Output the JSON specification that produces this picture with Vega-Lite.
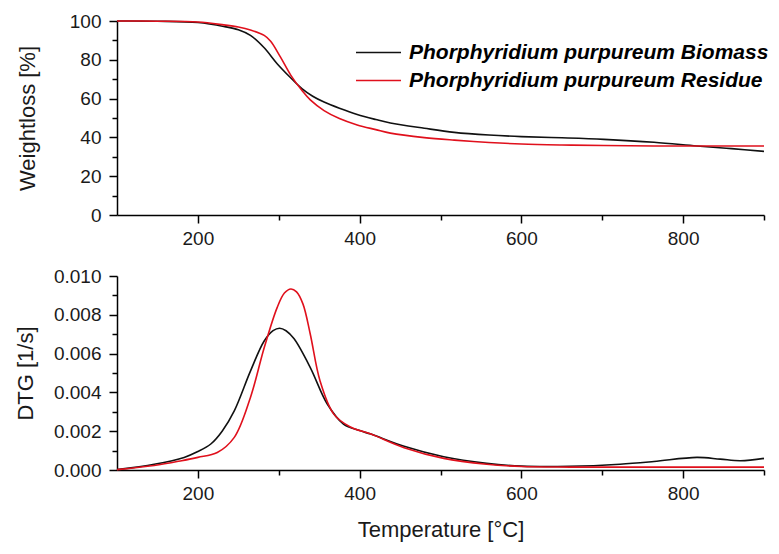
{
  "$schema": "https://vega.github.io/schema/vega-lite/v6.json",
  "padding": {"left": 14, "top": 12, "right": 5, "bottom": 5},
  "background": "white",
  "spacing": 19,
  "config": {
    "view": {"stroke": null},
    "font": "Liberation Sans",
    "axis": {
      "grid": false,
      "domainColor": "#000000",
      "domainWidth": 1.5,
      "tickColor": "#000000",
      "tickWidth": 1.5,
      "labelFont": "Liberation Sans",
      "labelFontSize": 19,
      "labelColor": "#1a1a1a",
      "titleFont": "Liberation Sans",
      "titleFontSize": 22,
      "titleFontWeight": "normal",
      "titleColor": "#1a1a1a",
      "labelPadding": 6
    }
  },
  "datasets": {
    "tg": [
      {"T": 100, "W": 100, "series": "Biomass"},
      {"T": 150, "W": 99.9, "series": "Biomass"},
      {"T": 200, "W": 99.2, "series": "Biomass"},
      {"T": 232, "W": 97.2, "series": "Biomass"},
      {"T": 250, "W": 95.5, "series": "Biomass"},
      {"T": 265, "W": 92.6, "series": "Biomass"},
      {"T": 282, "W": 86.2, "series": "Biomass"},
      {"T": 298, "W": 78.0, "series": "Biomass"},
      {"T": 315, "W": 70.6, "series": "Biomass"},
      {"T": 329, "W": 65.0, "series": "Biomass"},
      {"T": 342, "W": 61.2, "series": "Biomass"},
      {"T": 356, "W": 58.2, "series": "Biomass"},
      {"T": 375, "W": 55.0, "series": "Biomass"},
      {"T": 397, "W": 51.8, "series": "Biomass"},
      {"T": 420, "W": 49.2, "series": "Biomass"},
      {"T": 438, "W": 47.4, "series": "Biomass"},
      {"T": 480, "W": 44.7, "series": "Biomass"},
      {"T": 517, "W": 42.6, "series": "Biomass"},
      {"T": 560, "W": 41.2, "series": "Biomass"},
      {"T": 600, "W": 40.4, "series": "Biomass"},
      {"T": 650, "W": 39.8, "series": "Biomass"},
      {"T": 702, "W": 39.0, "series": "Biomass"},
      {"T": 764, "W": 37.5, "series": "Biomass"},
      {"T": 817, "W": 35.6, "series": "Biomass"},
      {"T": 860, "W": 34.2, "series": "Biomass"},
      {"T": 900, "W": 32.8, "series": "Biomass"},
      {"T": 100, "W": 100, "series": "Residue"},
      {"T": 150, "W": 99.9, "series": "Residue"},
      {"T": 200, "W": 99.5, "series": "Residue"},
      {"T": 232, "W": 98.0, "series": "Residue"},
      {"T": 250, "W": 96.9, "series": "Residue"},
      {"T": 265, "W": 95.4, "series": "Residue"},
      {"T": 282, "W": 92.6, "series": "Residue"},
      {"T": 290, "W": 89.6, "series": "Residue"},
      {"T": 302, "W": 81.5, "series": "Residue"},
      {"T": 315, "W": 72.0, "series": "Residue"},
      {"T": 329, "W": 64.0, "series": "Residue"},
      {"T": 339, "W": 59.3, "series": "Residue"},
      {"T": 356, "W": 53.8, "series": "Residue"},
      {"T": 375, "W": 49.7, "series": "Residue"},
      {"T": 397, "W": 46.4, "series": "Residue"},
      {"T": 420, "W": 44.0, "series": "Residue"},
      {"T": 438, "W": 42.2, "series": "Residue"},
      {"T": 480, "W": 39.9, "series": "Residue"},
      {"T": 517, "W": 38.6, "series": "Residue"},
      {"T": 560, "W": 37.4, "series": "Residue"},
      {"T": 600, "W": 36.6, "series": "Residue"},
      {"T": 650, "W": 36.1, "series": "Residue"},
      {"T": 702, "W": 35.8, "series": "Residue"},
      {"T": 764, "W": 35.6, "series": "Residue"},
      {"T": 817, "W": 35.6, "series": "Residue"},
      {"T": 860, "W": 35.6, "series": "Residue"},
      {"T": 900, "W": 35.6, "series": "Residue"}
    ],
    "dtg": [
      {"T": 100, "D": 0.00002, "series": "Biomass"},
      {"T": 146, "D": 0.0003, "series": "Biomass"},
      {"T": 183, "D": 0.00065, "series": "Biomass"},
      {"T": 200, "D": 0.00095, "series": "Biomass"},
      {"T": 216, "D": 0.00134, "series": "Biomass"},
      {"T": 230, "D": 0.0020, "series": "Biomass"},
      {"T": 245, "D": 0.00305, "series": "Biomass"},
      {"T": 265, "D": 0.0051, "series": "Biomass"},
      {"T": 282, "D": 0.00665, "series": "Biomass"},
      {"T": 293, "D": 0.00718, "series": "Biomass"},
      {"T": 301, "D": 0.00731, "series": "Biomass"},
      {"T": 309, "D": 0.00718, "series": "Biomass"},
      {"T": 319, "D": 0.00676, "series": "Biomass"},
      {"T": 339, "D": 0.00528, "series": "Biomass"},
      {"T": 360, "D": 0.0034, "series": "Biomass"},
      {"T": 380, "D": 0.00237, "series": "Biomass"},
      {"T": 400, "D": 0.00203, "series": "Biomass"},
      {"T": 414, "D": 0.00185, "series": "Biomass"},
      {"T": 455, "D": 0.00122, "series": "Biomass"},
      {"T": 504, "D": 0.00068, "series": "Biomass"},
      {"T": 557, "D": 0.00034, "series": "Biomass"},
      {"T": 600, "D": 0.0002, "series": "Biomass"},
      {"T": 660, "D": 0.00019, "series": "Biomass"},
      {"T": 722, "D": 0.0003, "series": "Biomass"},
      {"T": 764, "D": 0.00044, "series": "Biomass"},
      {"T": 817, "D": 0.00065, "series": "Biomass"},
      {"T": 846, "D": 0.00056, "series": "Biomass"},
      {"T": 871, "D": 0.00048, "series": "Biomass"},
      {"T": 900, "D": 0.0006, "series": "Biomass"},
      {"T": 100, "D": 0.00002, "series": "Residue"},
      {"T": 146, "D": 0.00023, "series": "Residue"},
      {"T": 180, "D": 0.00048, "series": "Residue"},
      {"T": 200, "D": 0.00065, "series": "Residue"},
      {"T": 224, "D": 0.0009, "series": "Residue"},
      {"T": 245, "D": 0.00168, "series": "Residue"},
      {"T": 265, "D": 0.00374, "series": "Residue"},
      {"T": 282, "D": 0.0063, "series": "Residue"},
      {"T": 298, "D": 0.00837, "series": "Residue"},
      {"T": 307, "D": 0.00912, "series": "Residue"},
      {"T": 315, "D": 0.00933, "series": "Residue"},
      {"T": 322, "D": 0.00918, "series": "Residue"},
      {"T": 330, "D": 0.00855, "series": "Residue"},
      {"T": 339, "D": 0.00700, "series": "Residue"},
      {"T": 351, "D": 0.0046, "series": "Residue"},
      {"T": 368, "D": 0.00288, "series": "Residue"},
      {"T": 388, "D": 0.00223, "series": "Residue"},
      {"T": 414, "D": 0.00185, "series": "Residue"},
      {"T": 455, "D": 0.00115, "series": "Residue"},
      {"T": 504, "D": 0.0006, "series": "Residue"},
      {"T": 557, "D": 0.0003, "series": "Residue"},
      {"T": 600, "D": 0.00018, "series": "Residue"},
      {"T": 660, "D": 0.00015, "series": "Residue"},
      {"T": 760, "D": 0.00015, "series": "Residue"},
      {"T": 900, "D": 0.00015, "series": "Residue"}
    ]
  },
  "vconcat": [
    {
      "width": 647,
      "height": 194,
      "data": {"name": "tg"},
      "mark": {"type": "line", "strokeWidth": 1.6, "interpolate": "catmull-rom"},
      "encoding": {
        "x": {
          "field": "T", "type": "quantitative",
          "scale": {"domain": [100, 900], "nice": false, "zero": false},
          "axis": {
            "title": null,
            "values": [200, 300, 400, 500, 600, 700, 800, 900],
            "labelExpr": "datum.value % 200 === 0 ? datum.label : ''",
            "tickSize": {"condition": {"test": "datum.value % 200 === 0", "value": 8}, "value": 5}
          }
        },
        "y": {
          "field": "W", "type": "quantitative",
          "scale": {"domain": [0, 100], "nice": false},
          "axis": {
            "title": "Weightloss [%]",
            "titlePadding": 30,
            "values": [0, 10, 20, 30, 40, 50, 60, 70, 80, 90, 100],
            "labelExpr": "datum.value % 20 === 0 ? datum.label : ''",
            "labelPadding": 8,
            "tickSize": {"condition": {"test": "datum.value % 20 === 0", "value": 8}, "value": 5}
          }
        },
        "color": {
          "field": "series", "type": "nominal",
          "scale": {"domain": ["Biomass", "Residue"], "range": ["#111111", "#e0101c"]},
          "legend": {
            "title": null,
            "orient": "none",
            "legendX": 249,
            "legendY": 19,
            "symbolType": "M-2,0H2",
            "symbolStrokeWidth": 1.6,
            "symbolSize": 506,
            "labelFont": "Liberation Sans",
            "labelFontSize": 21,
            "labelFontWeight": "bold",
            "labelFontStyle": "italic",
            "labelColor": "#000000",
            "labelOffset": 18,
            "labelLimit": 0,
            "labelExpr": "'Phorphyridium purpureum ' + datum.label",
            "padding": 0,
            "rowPadding": 5
          }
        }
      }
    },
    {
      "width": 647,
      "height": 194,
      "data": {"name": "dtg"},
      "mark": {"type": "line", "strokeWidth": 1.6, "interpolate": "catmull-rom"},
      "encoding": {
        "x": {
          "field": "T", "type": "quantitative",
          "scale": {"domain": [100, 900], "nice": false, "zero": false},
          "axis": {
            "title": "Temperature [°C]",
            "titlePadding": 16,
            "values": [200, 300, 400, 500, 600, 700, 800, 900],
            "labelExpr": "datum.value % 200 === 0 ? datum.label : ''",
            "tickSize": {"condition": {"test": "datum.value % 200 === 0", "value": 8}, "value": 5}
          }
        },
        "y": {
          "field": "D", "type": "quantitative",
          "scale": {"domain": [0, 0.01], "nice": false},
          "axis": {
            "title": "DTG [1/s]",
            "titlePadding": 16,
            "format": ".3f",
            "values": [0, 0.001, 0.002, 0.003, 0.004, 0.005, 0.006, 0.007, 0.008, 0.009, 0.01],
            "labelExpr": "round(datum.value * 1000) % 2 === 0 ? datum.label : ''",
            "labelPadding": 8,
            "tickSize": {"condition": {"test": "round(datum.value * 1000) % 2 === 0", "value": 8}, "value": 5}
          }
        },
        "color": {
          "field": "series", "type": "nominal",
          "scale": {"domain": ["Biomass", "Residue"], "range": ["#111111", "#e0101c"]},
          "legend": null
        }
      }
    }
  ],
  "resolve": {"scale": {"color": "shared"}}
}
